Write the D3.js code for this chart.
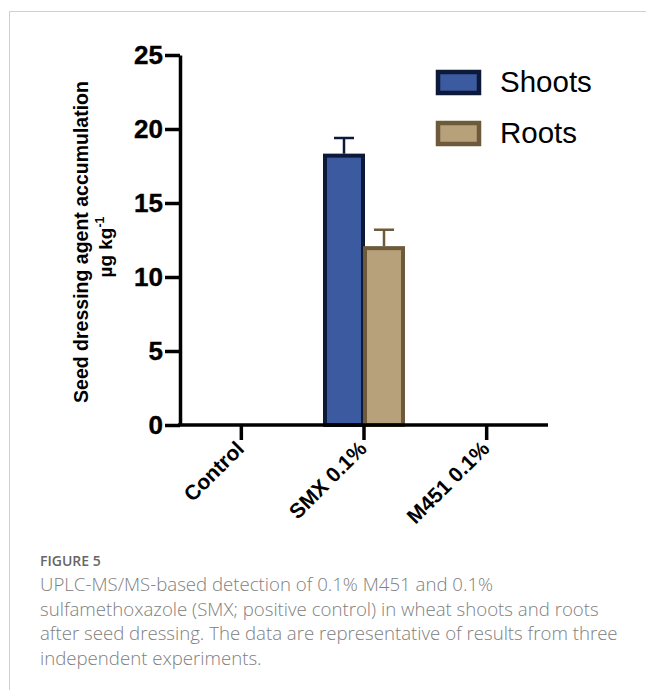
<!DOCTYPE html>
<html>
<head>
<meta charset="utf-8">
<script src="https://cdn.jsdelivr.net/npm/d3@7"></script>
<style>
  body { margin: 0; background: white; }
</style>
</head>
<body>
<div id="viz"></div>
<script>

const width = 646
const height = 690

// data
const categories = ["Control", "SMX 0.1%", "M451 0.1%"]
const seriesNames = ["Shoots", "Roots"]
const shootsValues = [0, 18.2, 0]
const shootsErrors = [0, 1.2, 0]
const rootsValues = [0, 11.95, 0]
const rootsErrors = [0, 1.25, 0]
const yTicks = [0, 5, 10, 15, 20, 25]
const captionLines = [
    "UPLC-MS/MS-based detection of 0.1% M451 and 0.1%",
    "sulfamethoxazole (SMX; positive control) in wheat shoots and roots",
    "after seed dressing. The data are representative of results from three",
    "independent experiments."
]

const fills = {Shoots: "#3b5aa0", Roots: "#b7a17a"}
const strokes = {Shoots: "#0c1939", Roots: "#6c5a3b"}

const svg = d3.select("#viz").append("svg").attr("width", width).attr("height", height)

// frame lines
svg.append("line").attr("x1", 9.5).attr("x2", width).attr("y1", 11.5).attr("y2", 11.5).attr("stroke", "#cfcfcf").attr("stroke-width", 1)
svg.append("line").attr("x1", 9.5).attr("x2", 9.5).attr("y1", 11.5).attr("y2", height).attr("stroke", "#cfcfcf").attr("stroke-width", 1)

const yScale = d3.scaleLinear().domain([0, 25]).range([425, 55])
const xScale = d3.scaleBand().domain(categories).range([180, 548]).padding(0)
const xSub = d3.scaleBand().domain(seriesNames).range([0, 80]).padding(0)

const chart = svg.append("g").attr("id", "chart")

// bars
const rows = categories.map((c, i) => ({cat: c, values: [
    {s: "Shoots", v: shootsValues[i], e: shootsErrors[i]},
    {s: "Roots", v: rootsValues[i], e: rootsErrors[i]}
]}))

const barGroups = chart.selectAll("g.cat").data(rows).enter().append("g").attr("class", "cat")
    .attr("transform", d => `translate(${xScale(d.cat) + xScale.bandwidth()/2 - 41}, 0)`)

barGroups.selectAll("rect").data(d => d.values.filter(v => v.v > 0)).enter().append("rect")
    .attr("x", d => xSub(d.s) + 2).attr("width", xSub.bandwidth() - 2)
    .attr("y", d => yScale(d.v)).attr("height", d => yScale(0) - yScale(d.v))
    .attr("fill", d => fills[d.s]).attr("stroke", d => strokes[d.s]).attr("stroke-width", 4)

// error bars (upper only)
barGroups.selectAll("path.err").data(d => d.values.filter(v => v.v > 0)).enter().append("path").attr("class", "err")
    .attr("d", d => {
        const cx = xSub(d.s) + 1 + xSub.bandwidth()/2
        const y0 = yScale(d.v) - 2
        const y1 = yScale(d.v + d.e)
        return `M${cx},${y0}V${y1}M${cx-10},${y1}H${cx+10}`
    })
    .attr("fill", "none").attr("stroke", d => strokes[d.s]).attr("stroke-width", 2.5)

// axes
const yAxis = d3.axisLeft(yScale).tickValues(yTicks).tickSize(15).tickSizeOuter(0).tickPadding(2)
const yAxisGroup = chart.append("g").attr("transform", "translate(180, 0)").call(yAxis)
yAxisGroup.select(".domain").attr("stroke-width", 3.5).attr("stroke", "black")
yAxisGroup.selectAll("line").attr("stroke-width", 3.5).attr("stroke", "black")
yAxisGroup.selectAll("text").attr("font-family", "Liberation Sans, Arial, sans-serif").attr("font-weight", "bold").attr("font-size", 26).attr("fill", "black")
    .attr("stroke", "black").attr("stroke-width", 0.4)

const xAxis = d3.axisBottom(xScale).tickSize(15).tickSizeOuter(0)
const xAxisGroup = chart.append("g").attr("transform", "translate(0, 425)").call(xAxis)
xAxisGroup.select(".domain").attr("stroke-width", 3.5).attr("stroke", "black").attr("d", "M178,0H548")
xAxisGroup.selectAll("line").attr("stroke-width", 3.5).attr("stroke", "black")
xAxisGroup.selectAll("text")
    .attr("font-family", "Liberation Sans, Arial, sans-serif").attr("font-weight", "bold").attr("font-size", 21).attr("fill", "black")
    .attr("text-anchor", "end").attr("dy", null).attr("y", 0)
    .attr("transform", "translate(4, 25) rotate(-45)")

// y axis title
const yTitle = chart.append("text").attr("transform", "translate(88, 242) rotate(-90)")
    .attr("text-anchor", "middle").attr("font-family", "Liberation Sans, Arial, sans-serif").attr("font-weight", "bold").attr("font-size", 19.5)
    .text("Seed dressing agent accumulation")
const yTitle2 = chart.append("text").attr("transform", "translate(112, 247) rotate(-90)")
    .attr("text-anchor", "middle").attr("font-family", "Liberation Sans, Arial, sans-serif").attr("font-weight", "bold").attr("font-size", 19)
yTitle2.append("tspan").text("\u00b5g kg")
yTitle2.append("tspan").attr("dy", -8).attr("font-size", 12.5).text("-1")

// legend
const legend = chart.append("g").attr("transform", "translate(438, 72)")
const legendItems = legend.selectAll("g").data(seriesNames).enter().append("g")
    .attr("transform", (d, i) => `translate(0, ${i*51})`)
legendItems.append("rect").attr("width", 41).attr("height", 21)
    .attr("fill", d => fills[d]).attr("stroke", d => strokes[d]).attr("stroke-width", 4.5)
legendItems.append("text").attr("x", 62).attr("y", 20).text(d => d)
    .attr("font-family", "Liberation Sans, Arial, sans-serif").attr("font-size", 29.5).attr("fill", "black")

// caption
const caption = svg.append("g").attr("transform", "translate(40, 0)")
caption.append("text").attr("x", 0).attr("y", 566).text("FIGURE 5")
    .attr("font-family", "Open Sans, sans-serif").attr("font-weight", 600).attr("font-size", 14).attr("fill", "#666")
const capLines = caption.selectAll("text.cap").data(captionLines).enter().append("text").attr("class", "cap")
    .attr("x", 0).attr("y", (d, i) => 591 + i*24.5).text(d => d)
    .attr("font-family", "Open Sans, sans-serif").attr("font-weight", 300).attr("font-size", 19).attr("fill", "#808080")
// fit font size to the widest line
const w3 = capLines.filter((d, i) => i == 2).node().getComputedTextLength()
capLines.attr("font-size", 19 * 578 / w3)

</script>
</body>
</html>
